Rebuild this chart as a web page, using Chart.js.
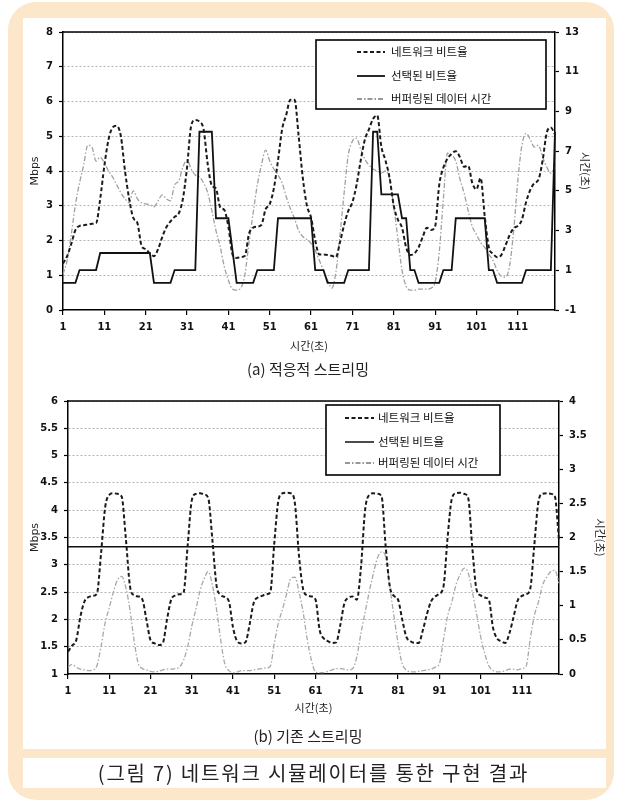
<!DOCTYPE html>
<html>
<head>
<meta charset="utf-8">
<script src="https://cdn.jsdelivr.net/npm/chart.js@4.4.1/dist/chart.umd.min.js"></script>
<style>
  body { margin: 0; width: 620px; height: 800px; position: relative; background: #fff; overflow: hidden;
         font-family: "Noto Sans CJK KR", sans-serif; color: #222; }
  .frame { position: absolute; left: 8px; top: 2px; width: 606px; height: 798px; background: #fde7cb; border-radius: 28px; }
  .panel { position: absolute; left: 23px; top: 18px; width: 583px; height: 731px; background: #fff; }
  .capbar { position: absolute; left: 23px; top: 758px; width: 583px; height: 30px; background: #fff; }
  canvas { position: absolute; left: 23px; }
  .sub { position: absolute; left: 23px; width: 570px; height: 20px; line-height: 20px; text-align: center; font-size: 15px; }
  .fig { position: absolute; left: 23px; width: 581px; top: 758px; height: 30px; line-height: 30px;
         text-align: center; font-size: 20px; letter-spacing: 1.8px; }
</style>
</head>
<body>
<div class="frame"></div>
<div class="panel"></div>
<div class="capbar"></div>
<canvas id="chartA" width="597" height="340" style="top:20px"></canvas>
<div class="sub" style="top:359px">(a) 적응적 스트리밍</div>
<canvas id="chartB" width="597" height="340" style="top:385px"></canvas>
<div class="sub" style="top:726px">(b) 기존 스트리밍</div>
<div class="fig">(그림 7) 네트워크 시뮬레이터를 통한 구현 결과</div>

<script>
// time axis categories (seconds 1..120)
const seconds = [];
for (let s = 1; s <= 120; s++) seconds.push(String(s));

const seriesNames = ['네트워크 비트율', '선택된 비트율', '버퍼링된 데이터 시간'];

// (a) adaptive streaming
const netRateA = [
    1.34, 1.55, 1.9, 2.3, 2.42, 2.44, 2.46, 2.48, 2.5, 3.2,
    4.15, 4.9, 5.25, 5.3, 5.0, 4.0, 3.2, 2.65, 2.5, 1.85,
    1.75, 1.63, 1.55, 1.75, 2.1, 2.38, 2.55, 2.68, 2.78, 3.2,
    4.1, 5.3, 5.47, 5.42, 5.2, 4.2, 3.58, 3.5, 2.96, 2.88,
    2.4, 1.6, 1.5, 1.52, 1.56, 2.2, 2.37, 2.4, 2.45, 2.9,
    3.05, 3.5, 4.3, 5.2, 5.62, 6.05, 6.05, 5.0, 3.8, 3.0,
    2.66, 2.0, 1.6, 1.6, 1.58, 1.56, 1.52, 1.95, 2.45, 2.85,
    3.1, 3.6, 4.3, 4.9, 5.2, 5.5, 5.6, 4.7, 4.3, 3.8,
    3.0, 2.6, 2.37, 1.8, 1.58, 1.63, 1.8, 2.1, 2.37, 2.3,
    2.4, 3.6, 4.1, 4.35, 4.5, 4.57, 4.4, 4.12, 4.15, 3.65,
    3.47, 3.8, 2.7, 1.8, 1.62, 1.52, 1.58, 1.85, 2.15, 2.35,
    2.42, 2.6, 3.1, 3.45, 3.65, 3.75, 4.3, 5.1, 5.25, 5.05
];
const selRateA = [
    0.78, 0.78, 0.78, 0.78, 1.15, 1.15, 1.15, 1.15, 1.15, 1.64,
    1.64, 1.64, 1.64, 1.64, 1.64, 1.64, 1.64, 1.64, 1.64, 1.64,
    1.64, 1.64, 0.78, 0.78, 0.78, 0.78, 0.78, 1.15, 1.15, 1.15,
    1.15, 1.15, 1.15, 5.13, 5.13, 5.13, 5.13, 2.64, 2.64, 2.64,
    2.64, 1.71, 0.78, 0.78, 0.78, 0.78, 0.78, 1.15, 1.15, 1.15,
    1.15, 1.15, 2.64, 2.64, 2.64, 2.64, 2.64, 2.64, 2.64, 2.64,
    2.64, 1.15, 1.15, 1.15, 0.78, 0.78, 0.78, 0.78, 0.78, 1.15,
    1.15, 1.15, 1.15, 1.15, 1.15, 5.13, 5.13, 3.33, 3.33, 3.33,
    3.33, 3.33, 2.64, 2.64, 1.15, 1.15, 0.78, 0.78, 0.78, 0.78,
    0.78, 0.78, 1.15, 1.15, 1.15, 2.64, 2.64, 2.64, 2.64, 2.64,
    2.64, 2.64, 2.64, 1.15, 1.15, 0.78, 0.78, 0.78, 0.78, 0.78,
    0.78, 0.78, 1.15, 1.15, 1.15, 1.15, 1.15, 1.15, 1.15, 5.13
];
const bufTimeA = [
    0.8, 1.5, 2.8, 4.3, 5.4, 6.3, 7.3, 7.2, 6.5, 6.7,
    6.4, 6.0, 5.7, 5.3, 4.9, 4.6, 4.4, 5.0, 4.6, 4.4,
    4.35, 4.3, 4.2, 4.5, 4.8, 4.6, 4.5, 5.3, 5.5, 6.2,
    6.55, 6.1, 5.8, 5.7, 5.4, 4.9, 4.0, 3.0, 2.2, 1.2,
    0.5, 0.05, 0.0, 0.1, 0.8, 2.4, 3.9, 5.3, 6.3, 7.05,
    6.5, 6.1, 5.8, 5.4, 4.7, 4.1, 3.6, 3.0, 2.7, 2.55,
    2.35, 2.0, 1.5, 1.0, 0.5, 0.1, 0.9, 2.8, 4.9, 6.8,
    7.5, 7.65, 7.1, 6.6, 6.3, 6.1, 6.0, 5.9, 6.0, 5.6,
    4.2, 2.6, 1.0, 0.2, 0.0, 0.0, 0.05, 0.05, 0.05, 0.1,
    0.4, 1.9, 4.6, 6.9, 6.8, 6.5, 5.6, 4.9, 4.0, 3.2,
    2.8, 2.4, 2.15, 1.8, 1.5, 1.0, 0.7, 0.65, 1.2, 3.0,
    5.5, 7.3, 7.9, 7.6, 7.2, 7.3, 6.7, 6.2, 5.9, 6.2
];

// (b) conventional streaming
const netRateB = [
    1.41, 1.52, 1.62, 2.05, 2.33, 2.41, 2.43, 2.47, 3.2, 4.05,
    4.28, 4.31, 4.3, 4.25, 3.5, 2.62, 2.44, 2.42, 2.37, 2.0,
    1.62, 1.56, 1.53, 1.57, 2.0, 2.36, 2.44, 2.46, 2.49, 3.35,
    4.18, 4.3, 4.31, 4.29, 4.22, 3.45, 2.62, 2.45, 2.41, 2.33,
    1.85, 1.6, 1.56, 1.58, 1.9, 2.3, 2.4, 2.43, 2.46, 2.49,
    3.4, 4.18, 4.31, 4.32, 4.31, 4.12, 3.15, 2.55, 2.44, 2.42,
    2.36, 1.8, 1.65, 1.6, 1.57, 1.58, 1.9, 2.3, 2.4, 2.42,
    2.36, 2.95, 4.0, 4.28, 4.31, 4.3, 4.25, 3.33, 2.6, 2.43,
    2.36, 2.0, 1.68, 1.6, 1.57, 1.57, 1.8, 2.1, 2.33, 2.42,
    2.47, 2.6, 3.5, 4.2, 4.31, 4.32, 4.3, 4.22, 3.3, 2.55,
    2.44, 2.4, 2.36, 1.85, 1.65, 1.6, 1.57, 1.75, 2.05, 2.35,
    2.43, 2.46, 2.55, 3.35, 4.15, 4.3, 4.31, 4.3, 4.25, 3.45
];
const selRateB = [
    3.33, 3.33, 3.33, 3.33, 3.33, 3.33, 3.33, 3.33, 3.33, 3.33,
    3.33, 3.33, 3.33, 3.33, 3.33, 3.33, 3.33, 3.33, 3.33, 3.33,
    3.33, 3.33, 3.33, 3.33, 3.33, 3.33, 3.33, 3.33, 3.33, 3.33,
    3.33, 3.33, 3.33, 3.33, 3.33, 3.33, 3.33, 3.33, 3.33, 3.33,
    3.33, 3.33, 3.33, 3.33, 3.33, 3.33, 3.33, 3.33, 3.33, 3.33,
    3.33, 3.33, 3.33, 3.33, 3.33, 3.33, 3.33, 3.33, 3.33, 3.33,
    3.33, 3.33, 3.33, 3.33, 3.33, 3.33, 3.33, 3.33, 3.33, 3.33,
    3.33, 3.33, 3.33, 3.33, 3.33, 3.33, 3.33, 3.33, 3.33, 3.33,
    3.33, 3.33, 3.33, 3.33, 3.33, 3.33, 3.33, 3.33, 3.33, 3.33,
    3.33, 3.33, 3.33, 3.33, 3.33, 3.33, 3.33, 3.33, 3.33, 3.33,
    3.33, 3.33, 3.33, 3.33, 3.33, 3.33, 3.33, 3.33, 3.33, 3.33,
    3.33, 3.33, 3.33, 3.33, 3.33, 3.33, 3.33, 3.33, 3.33, 3.33
];
const bufTimeB = [
    0.1, 0.14, 0.1, 0.07, 0.06, 0.05, 0.06, 0.12, 0.4, 0.75,
    0.97, 1.2, 1.38, 1.43, 1.27, 0.95, 0.5, 0.16, 0.08, 0.06,
    0.04, 0.03, 0.04, 0.06, 0.07, 0.07, 0.08, 0.1, 0.2, 0.4,
    0.7, 0.95, 1.22, 1.4, 1.5, 1.3, 0.95, 0.5, 0.15, 0.05,
    0.02, 0.03, 0.05, 0.05, 0.05, 0.06, 0.07, 0.08, 0.09, 0.11,
    0.45, 0.75, 0.95, 1.18, 1.4, 1.42, 1.2, 0.9, 0.5, 0.2,
    0.03, 0.02, 0.02, 0.04, 0.06, 0.08, 0.08, 0.07, 0.06, 0.08,
    0.25, 0.6, 0.9, 1.2, 1.47, 1.7, 1.79, 1.72, 1.28, 0.85,
    0.45, 0.15, 0.06, 0.03, 0.03, 0.04, 0.05, 0.06, 0.07, 0.1,
    0.15, 0.5, 0.85, 1.05, 1.3, 1.45, 1.55, 1.48, 1.2, 0.89,
    0.55, 0.3, 0.12, 0.05, 0.03, 0.03, 0.05, 0.07, 0.07, 0.06,
    0.08, 0.11, 0.5, 0.85, 1.05, 1.3, 1.42, 1.5, 1.52, 1.33
];

const tickFont = { family: 'DejaVu Sans', size: 10, weight: 'bold' };
const titleFont = { family: "'Noto Sans CJK KR', sans-serif", size: 11 };
const mbpsFont = { family: 'DejaVu Sans', size: 11 };
const gridGray = '#b4b4b4';

// legend box + top frame line, drawn over the plot
const legendBox = {
    id: 'legendBox',
    afterDatasetsDraw(chart, args, opts) {
        const ctx = chart.ctx;
        const area = chart.chartArea;
        ctx.save();
        ctx.strokeStyle = '#000';
        ctx.lineWidth = 1.5;
        ctx.beginPath();
        ctx.moveTo(area.left, area.top);
        ctx.lineTo(area.right, area.top);
        ctx.stroke();

        ctx.fillStyle = '#fff';
        ctx.fillRect(opts.x, opts.y, opts.w, opts.h);
        ctx.lineWidth = 1.6;
        ctx.strokeRect(opts.x, opts.y, opts.w, opts.h);

        chart.data.datasets.forEach((ds, k) => {
            const y = opts.rows[k];
            ctx.strokeStyle = ds.legendColor || ds.borderColor;
            ctx.lineWidth = ds.borderWidth;
            ctx.setLineDash(ds.borderDash || []);
            ctx.beginPath();
            ctx.moveTo(opts.lineX, y);
            ctx.lineTo(opts.lineX + opts.lineW, y);
            ctx.stroke();
            ctx.setLineDash([]);
            ctx.fillStyle = '#111';
            ctx.font = opts.font;
            ctx.textBaseline = 'middle';
            ctx.fillText(ds.label, opts.textX, y);
        });
        ctx.restore();
    }
};

const plainNumber = v => String(v);

function buildConfig(net, sel, buf, axes, legendOpts) {
    return {
        type: 'line',
        data: {
            labels: seconds,
            datasets: [
                {
                    label: seriesNames[0], data: net, yAxisID: 'y',
                    borderColor: '#1a1a1a', borderWidth: 2, borderDash: [4, 2.5],
                    pointRadius: 0, cubicInterpolationMode: 'monotone'
                },
                {
                    label: seriesNames[1], data: sel, yAxisID: 'y',
                    borderColor: '#111', borderWidth: axes.selWidth, pointRadius: 0, tension: 0
                },
                {
                    label: seriesNames[2], data: buf, yAxisID: 'y1',
                    borderColor: axes.bufColor, legendColor: '#777', borderWidth: 1.3, borderDash: [5, 2, 1.5, 2],
                    pointRadius: 0, cubicInterpolationMode: 'monotone'
                }
            ]
        },
        options: {
            responsive: false,
            animation: false,
            layout: { padding: { top: axes.padTop, left: 0, right: 0, bottom: 0 } },
            plugins: {
                legend: { display: false },
                tooltip: { enabled: false },
                legendBox: legendOpts
            },
            scales: {
                x: {
                    type: 'category',
                    grid: {
                        drawOnChartArea: false, tickLength: 5, lineWidth: 1.2,
                        tickColor: c => (c.index % 10 === 0 ? '#000' : 'rgba(0,0,0,0)')
                    },
                    border: { color: '#000', width: 1.5 },
                    ticks: {
                        autoSkip: false, maxRotation: 0, minRotation: 0, padding: 6,
                        font: tickFont, color: '#111',
                        callback: function (v, i) { return i % 10 === 0 ? this.getLabelForValue(v) : ''; }
                    },
                    title: { display: true, text: '시간(초)', font: titleFont, color: '#222',
                             padding: { top: 0, bottom: axes.xTitlePad } },
                    afterFit: s => { s.height = axes.xHeight; }
                },
                y: {
                    position: 'left',
                    min: axes.leftMin, max: axes.leftMax,
                    ticks: { stepSize: axes.leftStep, padding: 6, font: tickFont, color: '#111', callback: plainNumber },
                    grid: {
                        color: c => (c.index === 0 ? 'rgba(0,0,0,0)' : gridGray),
                        lineWidth: 1, tickColor: '#000', tickLength: 4, tickWidth: 1.2
                    },
                    border: { color: '#000', width: 1.5, dash: [2, 2] },
                    title: { display: true, text: 'Mbps', font: mbpsFont, color: '#222',
                             padding: { top: 5.4, bottom: 0 } },
                    afterFit: s => { s.width = axes.leftWidth; }
                },
                y1: {
                    position: 'right',
                    min: axes.rightMin, max: axes.rightMax,
                    ticks: { stepSize: axes.rightStep, padding: 6, font: tickFont, color: '#111', callback: plainNumber },
                    grid: { drawOnChartArea: false, tickColor: '#000', tickLength: 4, tickWidth: 1.2 },
                    border: { color: '#000', width: 1.5 },
                    title: { display: true, text: '시간(초)', font: titleFont, color: '#222',
                             padding: { top: axes.rightTitlePad, bottom: 0 } },
                    afterFit: s => { s.width = axes.rightWidth; }
                }
            }
        },
        plugins: [legendBox]
    };
}

let configA = buildConfig(netRateA, selRateA, bufTimeA, {
    padTop: 11, xHeight: 50, xTitlePad: 8, leftWidth: 40, rightWidth: 65, rightTitlePad: 28,
    leftMin: 0, leftMax: 8, leftStep: 1, rightMin: -1, rightMax: 13, rightStep: 2,
    selWidth: 1.8, bufColor: '#a0a0a0'
}, {
    x: 293, y: 20, w: 230, h: 69, rows: [32, 56, 79],
    lineX: 334, lineW: 28, textX: 368, font: "11.5px 'Noto Sans CJK KR'"
});
new Chart(document.getElementById('chartA'), configA);

let configB = buildConfig(netRateB, selRateB, bufTimeB, {
    padTop: 16, xHeight: 51, xTitlePad: 11, leftWidth: 45, rightWidth: 61, rightTitlePad: 13,
    leftMin: 1, leftMax: 6, leftStep: 0.5, rightMin: 0, rightMax: 4, rightStep: 0.5,
    selWidth: 1.5, bufColor: '#a8a8a8'
}, {
    x: 303, y: 20, w: 174, h: 70, rows: [33, 57, 78],
    lineX: 322, lineW: 29, textX: 355, font: "11.5px 'Noto Sans CJK KR'"
});
new Chart(document.getElementById('chartB'), configB);
</script>
</body>
</html>
